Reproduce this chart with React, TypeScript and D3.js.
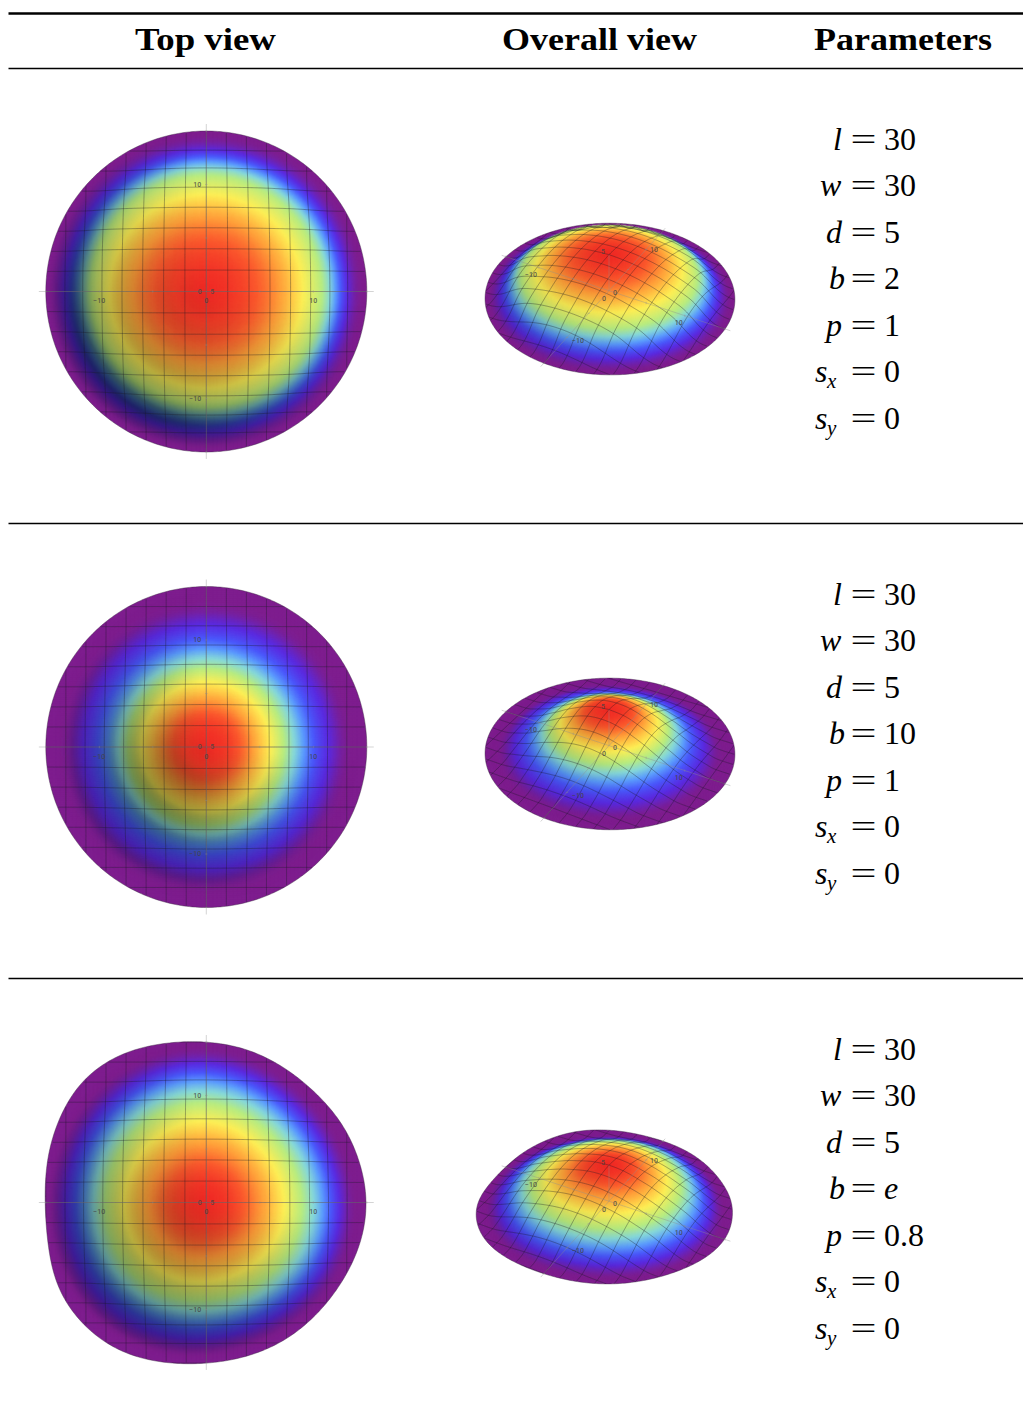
import React, { useMemo } from 'react';
import * as d3 from 'd3';

// ---- table text ----
const headers = ['Top view', 'Overall view', 'Parameters'];
const headerSpans = [[135, 276], [502, 697], [814, 992]];
const paramSymbols = ['l', 'w', 'd', 'b', 'p', 's', 's'];
const paramSubs = ['', '', '', '', '', 'x', 'y'];
const paramSymbolX = [833, 820, 826, 829, 826, 815, 815];
const paramsA = ['30', '30', '5', '2', '1', '0', '0'];
const paramsB = ['30', '30', '5', '10', '1', '0', '0'];
const paramsC = ['30', '30', '5', 'e', '0.8', '0', '0'];

// ---- surface heights: height / d at r/R = 0, .05, ... 1 ----
const profileA = [1, .995, .985, .97, .955, .93, .9, .87, .83, .79, .74, .68, .625, .565, .5, .405, .275, .145, .055, 0, 0];
const profileB = [1, .99, .975, .95, .9, .84, .77, .7, .625, .535, .45, .38, .29, .215, .155, .105, .06, .01, 0, 0, 0];
const profileC = [1, .995, .98, .96, .925, .885, .84, .8, .75, .69, .635, .57, .505, .44, .375, .29, .2, .12, .05, 0, 0];

// ---- outline radius of each surface (data units), every 15 degrees from +x ----
const outlineCircle = [15, 15, 15, 15];
const outlineC = [14.98, 14.77, 14.63, 14.39, 14.49, 14.77, 14.95, 15.33, 15.98, 16.26, 15.79, 15.33,
  14.95, 15.2, 16.0, 16.2, 16.05, 15.42, 14.95, 14.83, 14.77, 14.63, 14.63, 14.86];
// ---- how far the height contours reach, every 30 degrees ----
const contourCircle = [1, 1, 1, 1];
const contourC = [.96, .93, .94, 1, 1, 1, 1, 1.02, 1.02, .97, .95, .97];

// ---- colour ramp ----
const rampStops = [0, .1, .2, .3, .4, .5, .65, .72, .8, .9, 1];
const rampColors = ['#7e1d8e', '#5a2ae0', '#4a58fb', '#5c9dfd', '#86d8d8', '#b8ec80', '#fdee55', '#ffcc48', '#ffa03a', '#fb5a2d', '#f02a25'];

const axisTicks = [-15, -10, -5, 5, 10, 15];
const axisLabels = [-10, 10];
const meshSteps = d3.range(-8, 9);

const peak = 5;
const meshUnit = 15 / 8;
const topUnit = 10.7;
const topPersp = 0.013;
const homography = { ax: 7.28, ay: 2.4, bx: 3.94, by: -4.38, kz: 7, g: -0.00394, h: 0.0062, i: -0.0056 };

const panels = [
  { top: 0, profile: profileA, outline: outlineCircle, contour: contourCircle, params: paramsA, topC: [206.3, 291.5], allC: [609, 290.7] },
  { top: 455, profile: profileB, outline: outlineCircle, contour: contourCircle, params: paramsB, topC: [206.3, 747], allC: [609, 745.6] },
  { top: 910, profile: profileC, outline: outlineC, contour: contourC, params: paramsC, topC: [206.3, 1202.5], allC: [609, 1201.2] },
];

const colorScale = d3.scaleLinear<string>().domain(rampStops).range(rampColors).interpolate(d3.interpolateRgb).clamp(true);

function makeSurface(p: typeof panels[number]) {
  const prof = d3.interpolateBasis(p.profile);
  const out = d3.interpolateBasisClosed(p.outline);
  const con = d3.interpolateBasisClosed(p.contour);
  const ang = (x: number, y: number) => {
    let a = Math.atan2(y, x) / (2 * Math.PI);
    if (a < 0) a += 1;
    return a;
  };
  const outline = (x: number, y: number) => out(ang(x, y));
  const z = (x: number, y: number) => {
    const rho = Math.hypot(x, y) / (15 * con(ang(x, y)));
    return rho >= 1 ? 0 : peak * Math.max(0, prof(rho));
  };
  return { outline, z, out };
}

type Proj = (x: number, y: number, z: number) => [number, number];

const topProject = (c: number[]): Proj => {
  const sx = d3.scaleLinear().domain([0, 1]).range([c[0], c[0] + topUnit]);
  const sy = d3.scaleLinear().domain([0, 1]).range([c[1], c[1] - topUnit]);
  return (x, y, z) => {
    const w = 1 - topPersp * z;
    return [sx(x / w), sy(y / w)];
  };
};
const allProject = (c: number[]): Proj => (x, y, z) => {
  const H = homography;
  const w = 1 + H.g * x + H.h * y + H.i * z;
  return [c[0] + (H.ax * x + H.bx * y) / w, c[1] + (H.ay * x + H.by * y - H.kz * z) / w];
};

function paint(s: ReturnType<typeof makeSurface>, proj: Proj, box: number[], shadeK: number, shadeC: number, floor: number) {
  const [bx, by, bw, bh] = box;
  const ss = 2;
  const cv = document.createElement('canvas');
  cv.width = bw * ss;
  cv.height = bh * ss;
  const ctx = cv.getContext('2d')!;
  ctx.scale(ss, ss);
  ctx.translate(-bx, -by);
  ctx.lineWidth = 0.6;
  const lim = 17.5;
  const n = 280;
  const st = (2 * lim) / n;
  const lut = d3.range(0, 257).map((i) => d3.rgb(colorScale(i / 256)));
  for (let i = 0; i < n; i++) {
    const x0 = -lim + i * st;
    for (let j = n - 1; j >= 0; j--) {
      const y0 = -lim + j * st;
      const xc = x0 + st / 2;
      const yc = y0 + st / 2;
      if (Math.hypot(xc, yc) > s.outline(xc, yc) + 0.35) continue;
      const z00 = s.z(x0, y0), z10 = s.z(x0 + st, y0), z01 = s.z(x0, y0 + st), z11 = s.z(x0 + st, y0 + st);
      const zc = (z00 + z10 + z01 + z11) / 4;
      const gx = (z10 + z11 - z00 - z01) / (2 * st);
      const gy = (z01 + z11 - z00 - z10) / (2 * st);
      const m = Math.max(floor, Math.min(1, 1 - shadeK * (gx + gy + shadeC * Math.hypot(gx, gy))));
      const c = lut[Math.round((zc / peak) * 256)];
      const col = `rgb(${c.r * m | 0},${c.g * m | 0},${c.b * m | 0})`;
      const a = proj(x0, y0, z00), b = proj(x0 + st, y0, z10), e = proj(x0 + st, y0 + st, z11), f = proj(x0, y0 + st, z01);
      ctx.fillStyle = col;
      ctx.strokeStyle = col;
      ctx.beginPath();
      ctx.moveTo(a[0], a[1]);
      ctx.lineTo(b[0], b[1]);
      ctx.lineTo(e[0], e[1]);
      ctx.lineTo(f[0], f[1]);
      ctx.closePath();
      ctx.fill();
      ctx.stroke();
    }
  }
  return cv.toDataURL('image/png');
}

const lineGen = d3.line<[number, number]>().x((d) => d[0]).y((d) => d[1]);

function View({ id, p, kind }: { id: string; p: typeof panels[number]; kind: 'top' | 'all' }) {
  const data = useMemo(() => {
    const s = makeSurface(p);
    const center = kind === 'top' ? p.topC : p.allC;
    const proj = kind === 'top' ? topProject(center) : allProject(center);
    const box = kind === 'top'
      ? [center[0] - 180, center[1] - 180, 360, 360]
      : [center[0] - 150, center[1] - 90, 300, 190];
    const href = kind === 'top' ? paint(s, proj, box, 0.32, 0.9, 0.42) : paint(s, proj, box, 0.14, 0, 0.75);
    const rim = d3.range(0, 360, 1).map((a) => {
      const t = (a * Math.PI) / 180;
      const r = s.out(a / 360);
      return proj(r * Math.cos(t), r * Math.sin(t), 0);
    });
    const mesh: string[] = [];
    const line = lineGen.defined((d: any) => d[2]);
    meshSteps.forEach((k) => {
      const v = k * meshUnit;
      const run = d3.range(-17, 17.01, 0.12);
      const a = run.map((u) => {
        const q: any = proj(v, u, s.z(v, u));
        q[2] = Math.hypot(v, u) <= s.outline(v, u);
        return q;
      });
      const b = run.map((u) => {
        const q: any = proj(u, v, s.z(u, v));
        q[2] = Math.hypot(v, u) <= s.outline(u, v);
        return q;
      });
      mesh.push(line(a) || '', line(b) || '');
    });
    return { href, box, rim: d3.line()(rim as any) + 'Z', mesh, proj };
  }, [p, kind]);
  const { proj } = data;
  const axisEnd = 15.65;
  const O = proj(0, 0, 0);
  const xa = proj(-axisEnd, 0, 0), xb = proj(axisEnd, 0, 0), ya = proj(0, -axisEnd, 0), yb = proj(0, axisEnd, 0);
  const labelStyle = { fontFamily: 'Roboto, "Liberation Sans", sans-serif', fontSize: 7, fontWeight: 500, fill: '#444', fillOpacity: 0.8, textAnchor: 'middle' as const };
  const c = kind === 'top' ? p.topC : p.allC;
  return (
    <g>
      <clipPath id={id}><path d={data.rim} /></clipPath>
      <image href={data.href} x={data.box[0]} y={data.box[1]} width={data.box[2]} height={data.box[3]} clipPath={`url(#${id})`} />
      <g clipPath={`url(#${id})`} fill="none" stroke="#1c1c28" strokeOpacity={0.5} strokeWidth={0.7}>
        {data.mesh.map((d, i) => <path key={i} d={d} />)}
      </g>
      <path d={data.rim} fill="none" stroke="#3a2a40" strokeOpacity={0.7} strokeWidth={0.6} />
      <g stroke="#8f8f8f" strokeOpacity={0.55} strokeWidth={0.7}>
        <line x1={xa[0]} y1={xa[1]} x2={xb[0]} y2={xb[1]} />
        <line x1={ya[0]} y1={ya[1]} x2={yb[0]} y2={yb[1]} />
        {kind === 'all' && (() => { const t = proj(0, 0, peak); return <line x1={O[0]} y1={O[1]} x2={t[0]} y2={t[1]} />; })()}
        {axisTicks.map((t) => {
          const a = proj(t, 0, 0), b = proj(0, t, 0);
          return (
            <g key={t}>
              <line x1={a[0]} y1={a[1] - 1.2} x2={a[0]} y2={a[1] + 1.2} />
              <line x1={b[0] - 1.2} y1={b[1]} x2={b[0] + 1.2} y2={b[1]} />
            </g>
          );
        })}
      </g>
      <g {...labelStyle}>
        {axisLabels.map((t) => {
          const a = proj(t, 0, 0), b = proj(0, t, 0);
          const lab = t < 0 ? `\u2212${-t}` : `${t}`;
          const dxa = kind === 'top' ? 0 : t < 0 ? -8 : -6;
          const dya = kind === 'top' ? 11.5 : 9;
          const dxb = kind === 'top' ? (t < 0 ? -11 : -9) : t < 0 ? 11 : 8;
          const dyb = kind === 'top' ? 2.4 : t < 0 ? 5.5 : 3;
          return (
            <g key={t}>
              <text x={a[0] + dxa} y={a[1] + dya}>{lab}</text>
              <text x={b[0] + dxb} y={b[1] + dyb}>{lab}</text>
            </g>
          );
        })}
        {kind === 'top' ? (
          <>
            <text x={c[0] + 0} y={c[1] + 11.5}>0</text>
            <text x={c[0] - 6.5} y={c[1] + 2.2}>0</text>
            <text x={c[0] + 6} y={c[1] + 2.2}>5</text>
          </>
        ) : (
          <>
            <text x={c[0] + 6} y={c[1] + 4.5}>0</text>
            <text x={c[0] - 5} y={c[1] + 10.5}>0</text>
            <text x={c[0] - 6} y={c[1] - 36.5}>5</text>
          </>
        )}
      </g>
    </g>
  );
}

const serif = '"Liberation Serif", "Times New Roman", serif';

function Params({ p }: { p: typeof panels[number] }) {
  const rowY = d3.scaleLinear().domain([0, 1]).range([149.5 + p.top, 196 + p.top]);
  return (
    <g fontFamily={serif} fontSize={32} fill="#000">
      {p.params.map((val, i) => {
        const y = rowY(i);
        const isSym = val === 'e';
        return (
          <g key={i}>
            <text x={paramSymbolX[i]} y={y} fontStyle="italic">{paramSymbols[i]}</text>
            {paramSubs[i] && <text x={827} y={y + 6} fontStyle="italic" fontSize={21}>{paramSubs[i]}</text>}
            <text x={850.5} y={y} textLength={26} lengthAdjust="spacingAndGlyphs">=</text>
            <text x={884} y={y} fontStyle={isSym ? 'italic' : 'normal'}>{val}</text>
          </g>
        );
      })}
    </g>
  );
}

export default function App() {
  return (
    <svg width={1023} height={1427} viewBox="0 0 1023 1427" style={{ position: 'absolute', left: 0, top: 0, background: '#fff' }}>
      <g stroke="#000" fill="none">
        <line x1={8.5} x2={1023} y1={13.5} y2={13.5} strokeWidth={2.5} />
        <line x1={8.5} x2={1023} y1={68.5} y2={68.5} strokeWidth={1.4} />
        <line x1={8.5} x2={1023} y1={523.5} y2={523.5} strokeWidth={1.4} />
        <line x1={8.5} x2={1023} y1={978.5} y2={978.5} strokeWidth={1.4} />
      </g>
      <g fontFamily={serif} fontWeight="bold" fontSize={31} fill="#000">
        {headers.map((h, i) => (
          <text key={h} x={headerSpans[i][0]} y={50} textLength={headerSpans[i][1] - headerSpans[i][0]} lengthAdjust="spacingAndGlyphs">{h}</text>
        ))}
      </g>
      {panels.map((p, i) => (
        <g key={i}>
          <View id={`top${i}`} p={p} kind="top" />
          <View id={`all${i}`} p={p} kind="all" />
          <Params p={p} />
        </g>
      ))}
    </svg>
  );
}
